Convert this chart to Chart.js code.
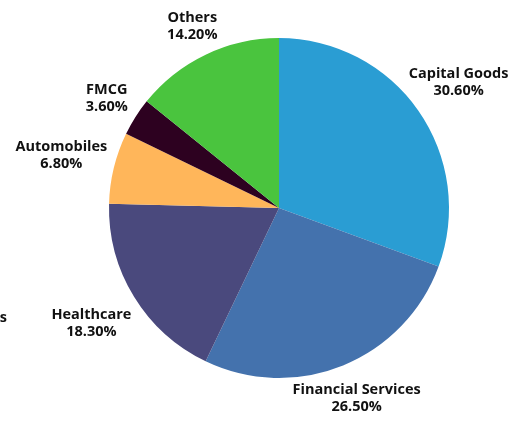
<!DOCTYPE html>
<html>
<head>
<meta charset="utf-8">
<script src="https://cdn.jsdelivr.net/npm/chart.js"></script>
<style>
  html, body { margin: 0; padding: 0; background: #ffffff; }
  #wrap { width: 512px; height: 421px; }
</style>
</head>
<body>
<div id="wrap"><canvas id="myPieChart" width="512" height="421"></canvas></div>
<script>
    const sectors = ['Capital Goods', 'Financial Services', 'Healthcare', 'Automobiles', 'FMCG', 'Others'];
    const shares = [30.6, 26.5, 18.3, 6.8, 3.6, 14.2];
    const colours = ['#2A9DD3', '#4472AD', '#4A497D', '#FFB65A', '#2D0120', '#4AC43E'];
    // how far each label block sits from the centre (layout only)
    const labelDist = [219, 206, 220, 224, 204, 201];

    const ctx = document.getElementById('myPieChart').getContext('2d');

    const outsideLabels = {
        id: 'outsideLabels',
        afterDatasetsDraw(chart) {
            const c = chart.ctx;
            const arcs = chart.getDatasetMeta(0).data;
            c.save();
            c.font = 'bold 14.5px "Open Sans", Lato, sans-serif';
            c.fillStyle = '#111111';
            c.textAlign = 'center';
            c.textBaseline = 'middle';
            arcs.forEach((arc, i) => {
                const mid = (arc.startAngle + arc.endAngle) / 2;
                const x = arc.x + Math.cos(mid) * labelDist[i];
                const y = arc.y + Math.sin(mid) * labelDist[i];
                c.fillText(sectors[i], x, y - 8.5);
                c.fillText(shares[i].toFixed(2) + '%', x, y + 8.5);
            });
            // cropped label fragment at the left edge
            c.textAlign = 'right';
            c.fillText('s', 7, 318);
            c.restore();
        }
    };

    new Chart(ctx, {
        type: 'pie',
        data: {
            labels: sectors,
            datasets: [{
                data: shares,
                backgroundColor: colours,
                borderWidth: 0
            }]
        },
        options: {
            responsive: false,
            animation: false,
            layout: { padding: { left: 109, right: 63, top: 38, bottom: 43 } },
            plugins: {
                legend: { display: false },
                tooltip: { enabled: false }
            }
        },
        plugins: [outsideLabels]
    });
</script>
</body>
</html>
